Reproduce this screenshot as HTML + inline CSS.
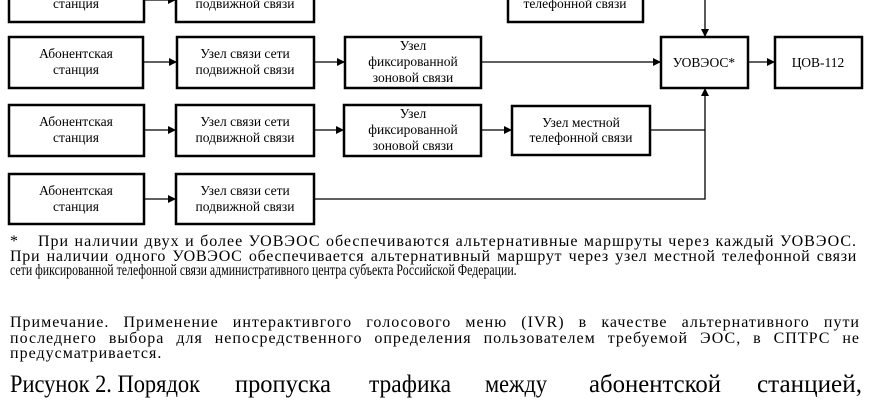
<!DOCTYPE html>
<html><head><meta charset="utf-8"><style>
html,body{margin:0;padding:0;background:#fff;}
svg{display:block;position:absolute;left:0;top:0;}
text{font-family:"Liberation Serif",serif;fill:#000;}
.b{font-size:13.5px;}
.t{position:absolute;font-family:"Liberation Serif",serif;color:#000;white-space:nowrap;text-align:justify;text-align-last:justify;line-height:1;}
.f{font-size:16px;letter-spacing:1px;}
</style></head><body>
<svg width="870" height="400" viewBox="0 0 870 400" xmlns="http://www.w3.org/2000/svg">
<defs><marker id="a" markerWidth="8" markerHeight="8" refX="7" refY="4" orient="auto" markerUnits="userSpaceOnUse"><path d="M0,0 L8,4 L0,8 z" fill="#000"/></marker></defs>
<g fill="none" stroke="#000" stroke-width="2.5">
<rect x="9" y="-20" width="135" height="42"/>
<rect x="176" y="-20" width="138" height="42"/>
<rect x="508" y="-20" width="135" height="42"/>
<rect x="9" y="37" width="134" height="51"/>
<rect x="177" y="37" width="137" height="51"/>
<rect x="345" y="37" width="136" height="51"/>
<rect x="9" y="105" width="135" height="51"/>
<rect x="176" y="105" width="138" height="51"/>
<rect x="344" y="105" width="137" height="51"/>
<rect x="512" y="106" width="138" height="49"/>
<rect x="9" y="174" width="135" height="50"/>
<rect x="176" y="174" width="138" height="50"/>
<rect x="661" y="37" width="87" height="51"/>
<rect x="775" y="37" width="87" height="51"/>
</g>
<g stroke="#000" stroke-width="1.3" fill="none">
<line x1="144" y1="0" x2="175" y2="0" marker-end="url(#a)"/>
<line x1="143" y1="62" x2="176" y2="62" marker-end="url(#a)"/>
<line x1="314" y1="62" x2="344" y2="62" marker-end="url(#a)"/>
<line x1="481" y1="62" x2="660" y2="62" marker-end="url(#a)"/>
<line x1="748" y1="62" x2="774" y2="62" marker-end="url(#a)"/>
<line x1="144" y1="130" x2="175" y2="130" marker-end="url(#a)"/>
<line x1="314" y1="130" x2="343" y2="130" marker-end="url(#a)"/>
<line x1="481" y1="130" x2="511" y2="130" marker-end="url(#a)"/>
<line x1="144" y1="199" x2="175" y2="199" marker-end="url(#a)"/>
<line x1="705" y1="0" x2="705" y2="36" marker-end="url(#a)"/>
<polyline points="314,199 705,199 705,89" marker-end="url(#a)"/>
<line x1="650" y1="130" x2="705" y2="130"/>
</g>
<g class="b" text-anchor="middle">
<text x="76" y="8">станция</text>
<text x="245" y="8">подвижной связи</text>
<text x="575" y="8">телефонной связи</text>
<text x="76" y="58">Абонентская</text><text x="76" y="74">станция</text>
<text x="245" y="58">Узел связи сети</text><text x="245" y="74">подвижной связи</text>
<text x="413" y="50">Узел</text><text x="413" y="66">фиксированной</text><text x="413" y="82">зоновой связи</text>
<text x="76" y="126">Абонентская</text><text x="76" y="142">станция</text>
<text x="245" y="126">Узел связи сети</text><text x="245" y="142">подвижной связи</text>
<text x="413" y="118">Узел</text><text x="413" y="134">фиксированной</text><text x="413" y="150">зоновой связи</text>
<text x="581" y="127">Узел местной</text><text x="581" y="142">телефонной связи</text>
<text x="76" y="195">Абонентская</text><text x="76" y="211">станция</text>
<text x="245" y="195">Узел связи сети</text><text x="245" y="211">подвижной связи</text>
<text x="704" y="67">УОВЭОС*</text>
<text x="818" y="67">ЦОВ-112</text>
</g>
<g style="font-size:25px">
<text x="10" y="392" textLength="190" lengthAdjust="spacingAndGlyphs">Рисунок 2. Порядок</text>
<text x="235" y="392" textLength="96" lengthAdjust="spacingAndGlyphs">пропуска</text>
<text x="369" y="392" textLength="82" lengthAdjust="spacingAndGlyphs">трафика</text>
<text x="485" y="392" textLength="62" lengthAdjust="spacingAndGlyphs">между</text>
<text x="589" y="392" textLength="132" lengthAdjust="spacingAndGlyphs">абонентской</text>
<text x="757" y="392" textLength="105" lengthAdjust="spacingAndGlyphs">станцией,</text>
</g>
</svg>
<div class="t f" style="left:10px;top:234px;">*</div>
<div class="t f" style="left:38px;top:234px;width:819px;">При наличии двух и более УОВЭОС обеспечиваются альтернативные маршруты через каждый УОВЭОС.</div>
<div class="t f" style="left:10px;top:249px;width:847px;letter-spacing:0.7px;">При наличии одного УОВЭОС обеспечивается альтернативный маршрут через узел местной телефонной связи</div>
<div class="t" style="left:10px;top:263px;font-size:16px;text-align-last:auto;transform:scaleX(0.74);transform-origin:0 0;">сети фиксированной телефонной связи административного центра субъекта Российской Федерации.</div>
<div class="t f" style="left:10px;top:315px;width:850px;">Примечание. Применение интерактивгого голосового меню (IVR) в качестве альтернативного пути</div>
<div class="t f" style="left:10px;top:331px;width:850px;">последнего выбора для непосредственного определения пользователем требуемой ЭОС, в СПТРС не</div>
<div class="t f" style="left:10px;top:346px;text-align-last:auto;">предусматривается.</div>
</body></html>
